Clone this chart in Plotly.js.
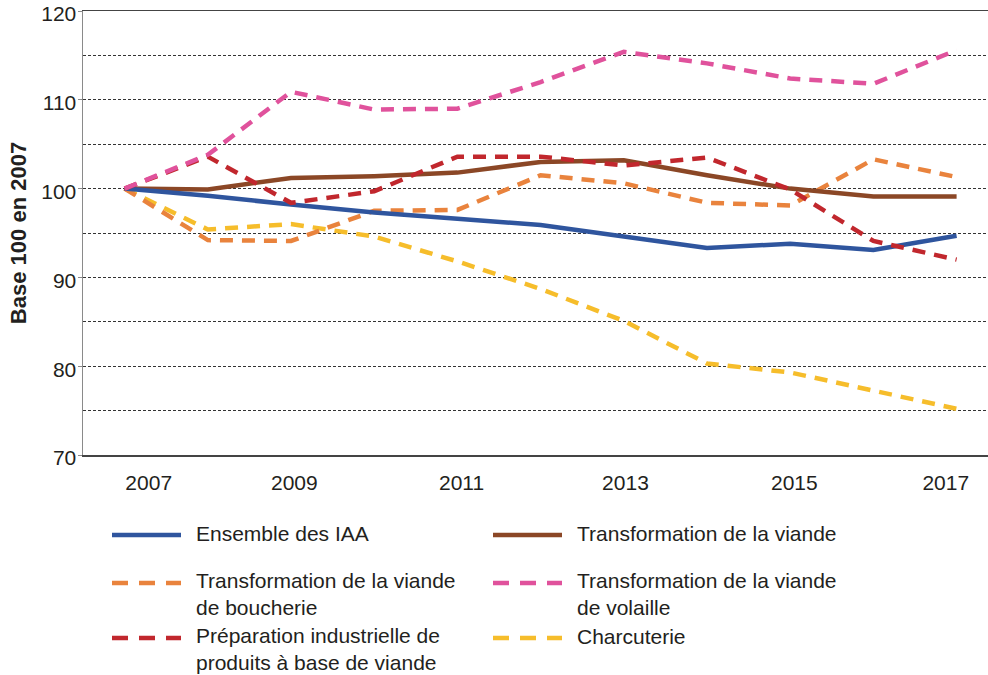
<!DOCTYPE html>
<html>
<head>
<meta charset="utf-8">
<script src="https://cdn.plot.ly/plotly-3.0.1.min.js"></script>
<style>html,body{margin:0;padding:0;background:#fff;}#chart{width:988px;height:675px;}</style>
</head>
<body>
<div id="chart"></div>
<script>
// ---- Data ----
const years = [2007, 2008, 2009, 2010, 2011, 2012, 2013, 2014, 2015, 2016, 2017];
const ensembleIAA = [100, 99.2, 98.2, 97.3, 96.6, 95.9, 94.6, 93.3, 93.8, 93.1, 94.7];
const transfoViande = [100, 99.9, 101.2, 101.4, 101.8, 103.0, 103.2, 101.5, 100.0, 99.1, 99.1];
const viandeBoucherie = [100, 94.2, 94.1, 97.5, 97.6, 101.5, 100.6, 98.4, 98.1, 103.3, 101.3];
const viandeVolaille = [100, 103.8, 110.9, 108.9, 109.0, 112.0, 115.4, 114.1, 112.4, 111.8, 115.6];
const prepIndustrielle = [100, 103.6, 98.4, 99.7, 103.6, 103.6, 102.6, 103.5, 99.9, 94.1, 92.0];
const charcuterie = [100, 95.4, 96.0, 94.6, 91.8, 88.7, 85.1, 80.3, 79.3, 77.3, 75.2];
const seriesNames = [
  "Ensemble des IAA",
  "Transformation de la viande",
  "Transformation de la viande<br>de boucherie",
  "Transformation de la viande<br>de volaille",
  "Préparation industrielle de<br>produits à base de viande",
  "Charcuterie"
];
const xTickLabels = ["2007", "2009", "2011", "2013", "2015", "2017"];
const yTickLabels = ["70", "80", "90", "100", "110", "120"];

// ---- Styles ----
const colors = ["#2f559e", "#8b4726", "#e9833d", "#e0529c", "#c1272d", "#f6bd2b"];
const dashes = ["solid", "solid", "13px,9px", "13px,9px", "13px,9px", "13px,9px"];
const seriesData = [ensembleIAA, transfoViande, viandeBoucherie, viandeVolaille, prepIndustrielle, charcuterie];
const font = "Liberation Sans, Arial, Helvetica, sans-serif";
const textColor = "#231f20";

// draw order: yellow, orange, brown, blue, red, pink on top
const order = [5, 2, 1, 0, 4, 3];
const traces = order.map(i => ({
  type: "scatter",
  mode: "lines",
  x: years,
  y: seriesData[i],
  name: seriesNames[i].replace("<br>", " "),
  showlegend: false,
  line: {color: colors[i], width: 4.5, dash: dashes[i]},
  hoverinfo: "x+y+name"
}));

// tick label positions (labels are slightly offset in the reference)
const xTickPos = [2007.29, 2009.04, 2011.05, 2013.02, 2015.05, 2016.87];

const L = 83, R = 988, T = 11, B = 455;
const px = v => (v - L) / (R - L);
const py = v => (B - v) / (B - T);

// manual legend, two columns
const legendItems = [
  {i: 0, sx: 112, tx: 194, ly: 535, ty: 533},
  {i: 1, sx: 493, tx: 575, ly: 535, ty: 533},
  {i: 2, sx: 112, tx: 194, ly: 583, ty: 593.5},
  {i: 3, sx: 493, tx: 575, ly: 583, ty: 593.5},
  {i: 4, sx: 112, tx: 194, ly: 638, ty: 648.5},
  {i: 5, sx: 493, tx: 575, ly: 638, ty: 636}
];
const shapes = legendItems.map(it => ({
  type: "line", xref: "paper", yref: "paper",
  x0: px(it.sx), x1: px(it.sx + 69), y0: py(it.ly), y1: py(it.ly),
  line: {color: colors[it.i], width: 4.5, dash: dashes[it.i] === "solid" ? "solid" : "16px,11px"}
}));
const annotations = legendItems.map(it => ({
  xref: "paper", yref: "paper", x: px(it.tx), y: py(it.ty),
  xanchor: "left", yanchor: "middle", align: "left", showarrow: false,
  text: seriesNames[it.i],
  font: {family: font, size: 21, color: textColor}
}));

const layout = {
  width: 988, height: 675,
  margin: {l: L, r: 0, t: T, b: 675 - B},
  paper_bgcolor: "#fff", plot_bgcolor: "#fff",
  font: {family: font, size: 21, color: textColor},
  showlegend: false,
  xaxis: {
    range: [2006.5, 2006.5 + (R - L) / 83.2],
    tickmode: "array", tickvals: xTickPos, ticktext: xTickLabels,
    showgrid: false, zeroline: false,
    showline: true, linecolor: "#444", linewidth: 1.5, mirror: true,
    ticks: "", ticklabelstandoff: 8,
    tickfont: {family: font, size: 21, color: textColor}
  },
  yaxis: {
    range: [70, 120],
    tickmode: "array", tickvals: [70, 80, 90, 100, 110, 120], ticktext: yTickLabels,
    showgrid: true, gridcolor: "#333", gridwidth: 1, griddash: "3px,2px",
    minor: {dtick: 5, tick0: 75, showgrid: true, gridcolor: "#333", gridwidth: 1, griddash: "3px,2px"},
    zeroline: false,
    showline: true, linecolor: "#8a8a8a", linewidth: 1.5,
    ticks: "outside", ticklen: 4, tickcolor: "#8a8a8a",
    ticklabelshift: 3, ticklabelstandoff: -3,
    tickfont: {family: font, size: 21, color: textColor},
    title: {text: "Base 100 en 2007", standoff: 8, font: {family: font, size: 22, color: textColor, weight: "bold"}}
  },
  shapes: shapes,
  annotations: annotations
};

Plotly.newPlot("chart", traces, layout, {staticPlot: true, displayModeBar: false});
</script>
</body>
</html>
